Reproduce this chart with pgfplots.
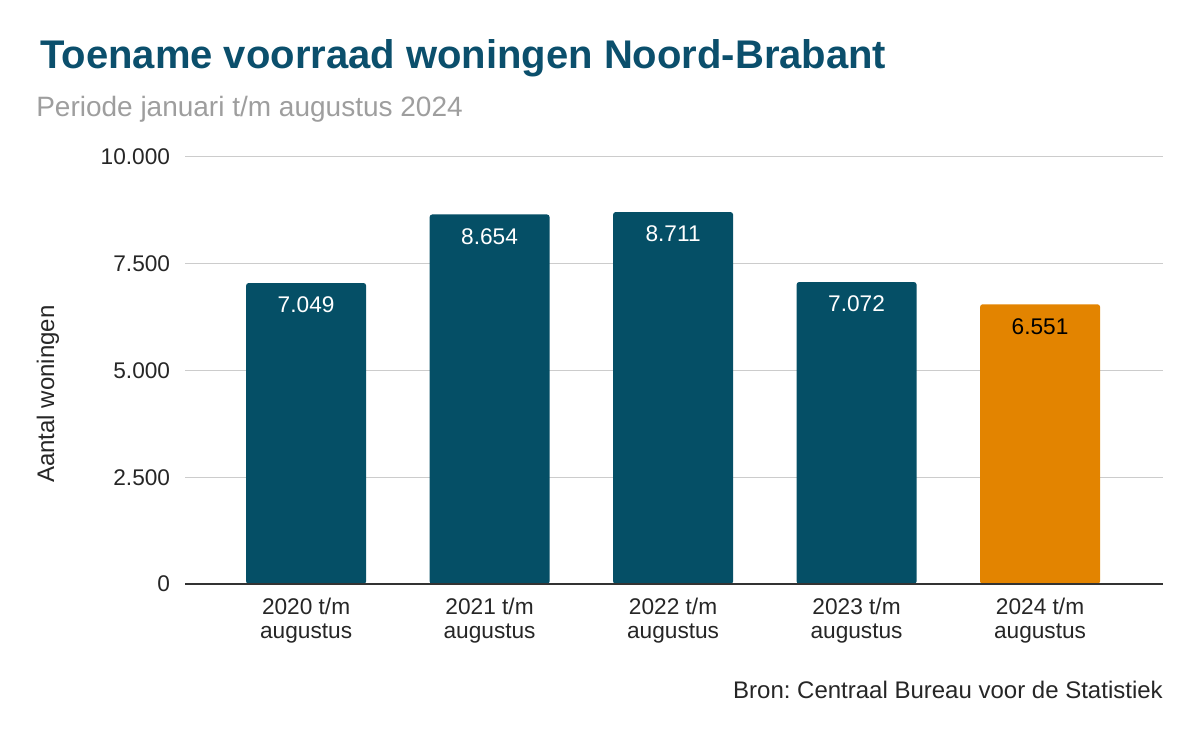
\documentclass[border=0pt]{standalone}
\usepackage{fontspec}
\setmainfont{Liberation Sans}
\usepackage{pgfplots}
\pgfplotsset{compat=1.18}
\definecolor{barteal}{HTML}{054F66}
\definecolor{barorange}{HTML}{E38400}
\definecolor{titlecol}{HTML}{0B4F6C}
\definecolor{subcol}{HTML}{9E9E9E}
\definecolor{gridcol}{HTML}{CCCCCC}
\frenchspacing
\begin{document}
\begin{tikzpicture}[x=0.75pt,y=0.75pt]
\path[use as bounding box] (0,0) rectangle (1199,742);
\node[anchor=base west, inner sep=0, text=titlecol, font=\fontsize{30}{35}\selectfont\bfseries] at (40,673) {Toename voorraad woningen Noord-Brabant};
\node[anchor=base west, inner sep=0, text=subcol, font=\fontsize{21}{25}\selectfont] at (36,625) {Periode januari t/m augustus 2024};
\node[anchor=base east, inner sep=0, text=black!85, font=\fontsize{18}{21}\selectfont] at (1163,43) {Bron: Centraal Bureau voor de Statistiek};
\node[rotate=90, inner sep=0, text=black!85, font=\fontsize{18}{21}\selectfont] at (48,348) {Aantal woningen};
\begin{axis}[
  at={(138.75pt,118.5pt)}, anchor=south west,
  width=733.5pt, height=320.25pt, scale only axis,
  xmin=-0.66, xmax=4.67, ymin=0, ymax=10000,
  ybar, bar width=90pt, bar shift=0pt,
  axis line style={draw=none},
  major tick length=0pt,
  ytick={0,2500,5000,7500,10000},
  scaled y ticks=false,
  ymajorgrids, grid style={gridcol, line width=0.75pt},
  xtick={0,1,2,3,4},
  xticklabels={{2020 t/m\\augustus},{2021 t/m\\augustus},{2022 t/m\\augustus},{2023 t/m\\augustus},{2024 t/m\\augustus}},
  xticklabel style={align=center, font=\fontsize{17}{18}\selectfont, text=black!85, inner sep=0pt, yshift=-10pt},
  yticklabel style={font=\fontsize{17}{20}\selectfont, text=black!85, inner sep=0pt, xshift=-11pt},
  /pgf/number format/.cd, 1000 sep={.}, assume math mode=true,
  /pgfplots/.cd,
  nodes near coords,
  every node near coord/.append style={anchor=north, yshift=-7pt, font=\fontsize{17}{20}\selectfont},
  clip=false,
]
\addplot[fill=barteal, draw=none, rounded corners=2pt, nodes near coords style={text=white}] coordinates {(0,7049) (1,8654) (2,8711) (3,7072)};
\addplot[fill=barorange, draw=none, rounded corners=2pt, nodes near coords style={text=black}] coordinates {(4,6551)};
\draw[black!80, line width=1.1pt] (axis cs:-0.66,0) -- (axis cs:4.67,0);
\end{axis}
\end{tikzpicture}
\end{document}
